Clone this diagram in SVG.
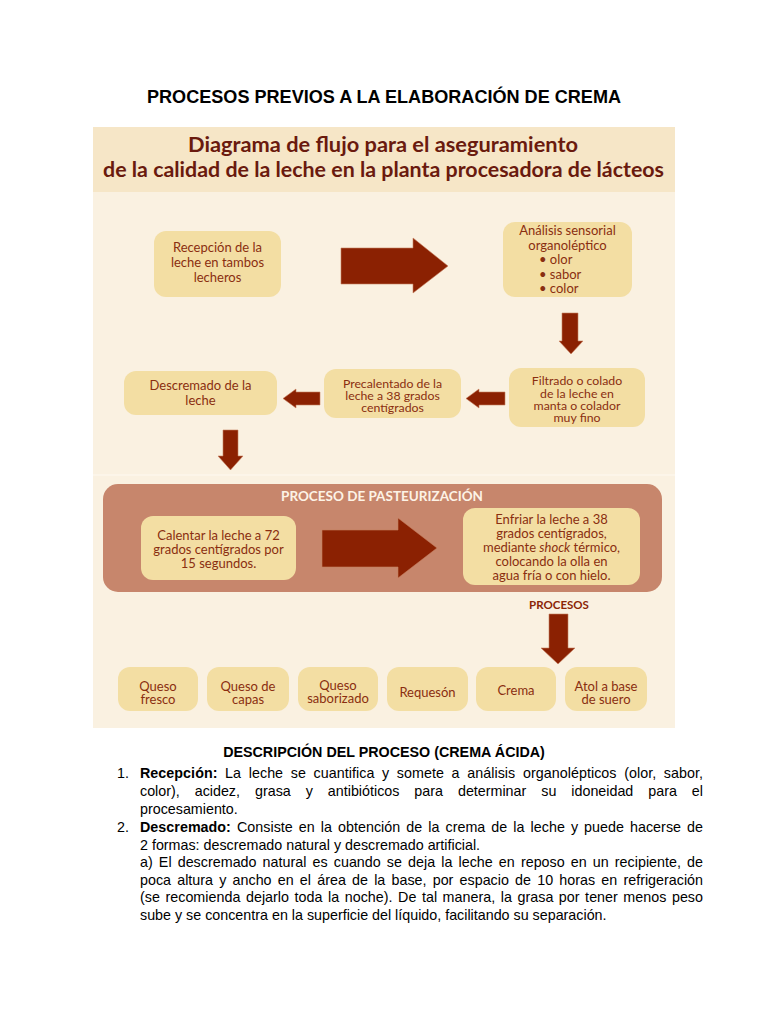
<svg xmlns="http://www.w3.org/2000/svg" width="768" height="1024" viewBox="0 0 768 1024">
<style>
.node{fill:#f3dea3}
.nt{font-family:Lato,"Open Sans","DejaVu Sans",sans-serif;font-size:13px;fill:#8a2e10;text-anchor:middle}
.nts{font-size:12.3px}
.ntl{font-family:Lato,"Open Sans","DejaVu Sans",sans-serif;font-size:13px;fill:#8a2e10}
.hd{font-family:Lato,"Open Sans",sans-serif;font-weight:bold;font-size:20px;fill:#6a1a0e;text-anchor:middle}
.arr{fill:#8b2102;stroke:#c8805f;stroke-width:0.6}
.body{font-family:"Liberation Sans",Arial,sans-serif;font-size:14.3px;fill:#000}
.b{font-weight:bold}
</style>
<rect x="0" y="0" width="768" height="1024" fill="#ffffff"/>
<text x="384" y="103" text-anchor="middle" font-family="Liberation Sans, Arial, sans-serif" font-weight="bold" font-size="18" textLength="474" lengthAdjust="spacingAndGlyphs">PROCESOS PREVIOS A LA ELABORACIÓN DE CREMA</text>

<g id="panel">
<rect x="93" y="127" width="582" height="601" fill="#faf1e1"/>
<rect x="93" y="127" width="582" height="65" fill="#f6e6c7"/>
<line x1="93" y1="475" x2="675" y2="475" stroke="#fdf9f1" stroke-width="1.2"/>
<text class="hd" x="383" y="152" textLength="390" lengthAdjust="spacingAndGlyphs">Diagrama de flujo para el aseguramiento</text>
<text class="hd" x="383.5" y="177" textLength="561" lengthAdjust="spacingAndGlyphs">de la calidad de la leche en la planta procesadora de lácteos</text>
</g>

<g id="pasteurizacion">
<rect x="103" y="484" width="559" height="108" rx="15" fill="#c7866c"/>
<text x="382" y="501" text-anchor="middle" font-family="Lato,'Open Sans',sans-serif" font-weight="bold" font-size="13.5" fill="#fdf3e6">PROCESO DE PASTEURIZACIÓN</text>
</g>

<g id="connectors">
<path class="arr" d="M341,248 H413 V238 L448,266 L413,293 V284 H341 Z"/>
<path class="arr" d="M562,313 H578 V341 H583 L571,354 L559,341 H562 Z"/>
<path class="arr" d="M505,392 V405 H479 V408 L466,398.5 L479,389 V392 Z"/>
<path class="arr" d="M320,392 V405 H296 V408 L283,398.5 L296,389 V392 Z"/>
<path class="arr" d="M223,430 H238 V456 H243 L230.5,470 L218,456 H223 Z"/>
<path class="arr" d="M322,530 H398 V518 L437,548 L398,578 V567 H322 Z"/>
<path class="arr" d="M549,614 H568 V648 H575 L558,664 L541,648 H549 Z"/>
</g>

<g id="n-recepcion">
<rect class="node" x="154" y="231" width="127" height="66" rx="12"/>
<text class="nt" x="217.5" y="252">Recepción de la</text>
<text class="nt" x="217.5" y="267">leche en tambos</text>
<text class="nt" x="217.5" y="282">lecheros</text>
</g>

<g id="n-analisis">
<rect class="node" x="503" y="222" width="129" height="75" rx="12"/>
<text class="nt" x="567.5" y="235">Análisis sensorial</text>
<text class="nt" x="567.5" y="250">organoléptico</text>
<text class="ntl" x="539" y="264">• olor</text>
<text class="ntl" x="539" y="278.5">• sabor</text>
<text class="ntl" x="539" y="293">• color</text>
</g>

<g id="n-filtrado">
<rect class="node" x="509" y="368" width="136" height="59" rx="12"/>
<text class="nt nts" x="577" y="385">Filtrado o colado</text>
<text class="nt nts" x="577" y="397.5">de la leche en</text>
<text class="nt nts" x="577" y="410">manta o colador</text>
<text class="nt nts" x="577" y="422">muy fino</text>
</g>

<g id="n-precalentado">
<rect class="node" x="324" y="369" width="137" height="49" rx="12"/>
<text class="nt nts" x="392.5" y="388">Precalentado de la</text>
<text class="nt nts" x="392.5" y="400">leche a 38 grados</text>
<text class="nt nts" x="392.5" y="412">centígrados</text>
</g>

<g id="n-descremado">
<rect class="node" x="124" y="371" width="153" height="44" rx="12"/>
<text class="nt" x="200.5" y="390">Descremado de la</text>
<text class="nt" x="200.5" y="405">leche</text>
</g>

<g id="n-calentar">
<rect class="node" x="141" y="516" width="155" height="64" rx="12"/>
<text class="nt" x="218.5" y="540">Calentar la leche a 72</text>
<text class="nt" x="218.5" y="554">grados centígrados por</text>
<text class="nt" x="218.5" y="568">15 segundos.</text>
</g>

<g id="n-enfriar">
<rect class="node" x="463" y="508" width="177" height="77" rx="12"/>
<text class="nt" x="551.5" y="524">Enfriar la leche a 38</text>
<text class="nt" x="551.5" y="538">grados  centígrados,</text>
<text class="nt" x="551.5" y="552">mediante <tspan font-style="italic">shock</tspan> térmico,</text>
<text class="nt" x="551.5" y="566">colocando la olla en</text>
<text class="nt" x="551.5" y="580">agua fría o con hielo.</text>
</g>

<text id="procesos-label" x="559" y="609" text-anchor="middle" font-family="Lato,'Open Sans',sans-serif" font-weight="bold" font-size="11.5" fill="#8b2506">PROCESOS</text>

<g id="n-queso-fresco">
<rect class="node" x="118" y="667" width="80" height="44" rx="12"/>
<text class="nt" x="158" y="691">Queso</text>
<text class="nt" x="158" y="704">fresco</text>
</g>
<g id="n-queso-capas">
<rect class="node" x="207" y="667" width="82" height="44" rx="12"/>
<text class="nt" x="248" y="691">Queso de</text>
<text class="nt" x="248" y="704">capas</text>
</g>
<g id="n-queso-saborizado">
<rect class="node" x="298" y="667" width="80" height="44" rx="12"/>
<text class="nt" x="338" y="690">Queso</text>
<text class="nt" x="338" y="703">saborizado</text>
</g>
<g id="n-requeson">
<rect class="node" x="387" y="667" width="81" height="44" rx="12"/>
<text class="nt" x="427.5" y="697">Requesón</text>
</g>
<g id="n-crema">
<rect class="node" x="476" y="667" width="80" height="44" rx="12"/>
<text class="nt" x="516" y="695">Crema</text>
</g>
<g id="n-atol">
<rect class="node" x="565" y="667" width="82" height="44" rx="12"/>
<text class="nt" x="606" y="691">Atol a base</text>
<text class="nt" x="606" y="704">de suero</text>
</g>

<g id="description">
<text class="body b" x="384" y="757" text-anchor="middle" font-size="13.8">DESCRIPCIÓN DEL PROCESO (CREMA ÁCIDA)</text>
<text class="body" x="117" y="778">1.</text>
<text class="body" x="140" y="778" word-spacing="3.6" textLength="563" lengthAdjust="spacing"><tspan class="b">Recepción:</tspan> La leche se cuantifica y somete a análisis organolépticos (olor, sabor,</text>
<text class="body" x="140" y="796" word-spacing="11" textLength="563" lengthAdjust="spacing">color), acidez, grasa y antibióticos para determinar su idoneidad para el</text>
<text class="body" x="140" y="814">procesamiento.</text>
<text class="body" x="117" y="832">2.</text>
<text class="body" x="140" y="832" word-spacing="2" textLength="563" lengthAdjust="spacing"><tspan class="b">Descremado:</tspan> Consiste en la obtención de la crema de la leche y puede hacerse de</text>
<text class="body" x="140" y="850">2 formas: descremado natural y descremado artificial.</text>
<text class="body" x="140" y="867" word-spacing="2.1" textLength="563" lengthAdjust="spacing">a) El descremado natural es cuando se deja la leche en reposo en un recipiente, de</text>
<text class="body" x="140" y="885" word-spacing="2.2" textLength="563" lengthAdjust="spacing">poca altura y ancho en el área de la base, por espacio de 10 horas en refrigeración</text>
<text class="body" x="140" y="902" word-spacing="1.5" textLength="563" lengthAdjust="spacing">(se recomienda dejarlo toda la noche). De tal manera, la grasa por tener menos peso</text>
<text class="body" x="140" y="920">sube y se concentra en la superficie del líquido, facilitando su separación.</text>
</g>
</svg>
